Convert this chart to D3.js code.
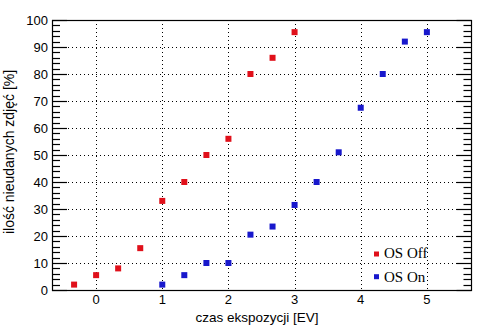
<!DOCTYPE html>
<html>
<head>
<meta charset="utf-8">
<script src="https://cdn.jsdelivr.net/npm/d3@7"></script>
<style>
html,body{margin:0;padding:0;background:#fff;}
svg{display:block;}
</style>
</head>
<body>
<svg id="chart" width="494" height="331"></svg>
<script>
// Data
const seriesNames = ["OS Off", "OS On"];
const offX = [-0.333, 0, 0.333, 0.667, 1, 1.333, 1.667, 2, 2.333, 2.667, 3];
const offY = [2, 5.5, 8, 15.5, 33, 40, 50, 56, 80, 86, 95.5];
const onX = [1, 1.333, 1.667, 2, 2.333, 2.667, 3, 3.333, 3.667, 4, 4.333, 4.667, 5];
const onY = [2, 5.5, 10, 10, 20.5, 23.5, 31.5, 40, 51, 67.5, 80, 92, 95.5];
const xTicks = [0, 1, 2, 3, 4, 5];
const yTicks = [0, 10, 20, 30, 40, 50, 60, 70, 80, 90, 100];
const yMinorTicks = d3.range(0, 101, 2);
const xTitle = "czas ekspozycji [EV]";
const yTitle = "ilość nieudanych zdjęć [%]";
const colors = ["#e0101a", "#1818cc"];

const svg = d3.select("#chart");
const L = 52, R = 471, T = 20, B = 290;
const x = d3.scaleLinear().domain([-0.667, 5.667]).range([L, R]);
const y = d3.scaleLinear().domain([0, 100]).range([B, T]);
const font = "'Liberation Sans', Arial, sans-serif";

// grid
const g = svg.append("g");
g.selectAll(".vg").data(xTicks).enter().append("line")
  .attr("x1", d => Math.round(x(d)) + 0.5).attr("x2", d => Math.round(x(d)) + 0.5)
  .attr("y1", T).attr("y2", B)
  .attr("stroke", "#000").attr("stroke-width", 1).attr("stroke-dasharray", "1,3");
g.selectAll(".hg").data(yTicks.filter(d => d > 0 && d < 100)).enter().append("line")
  .attr("x1", L).attr("x2", R)
  .attr("y1", d => Math.round(y(d)) + 0.5).attr("y2", d => Math.round(y(d)) + 0.5)
  .attr("stroke", "#000").attr("stroke-width", 1).attr("stroke-dasharray", "1,3");

// frame
svg.append("rect").attr("x", L + 0.5).attr("y", T + 0.5)
  .attr("width", R - L).attr("height", B - T)
  .attr("fill", "none").attr("stroke", "#000").attr("stroke-width", 1.2);

// minor/major ticks on left and right (inward)
const tickG = svg.append("g").attr("stroke", "#000").attr("stroke-width", 1.2);
yMinorTicks.forEach(v => {
  const major = v % 10 === 0;
  const len = major ? 15 : 8;
  const yy = Math.round(y(v)) + 0.5;
  tickG.append("line").attr("x1", L).attr("x2", L + len).attr("y1", yy).attr("y2", yy);
  tickG.append("line").attr("x1", R + 0.5).attr("x2", R + 0.5 - len).attr("y1", yy).attr("y2", yy);
});

// y tick labels
svg.append("g").selectAll("text").data(yTicks).enter().append("text")
  .attr("x", 48).attr("y", d => y(d)).attr("dy", "0.36em")
  .attr("text-anchor", "end").attr("font-family", font).attr("font-size", 13)
  .text(d => d);

// x tick labels
svg.append("g").selectAll("text").data(xTicks).enter().append("text")
  .attr("x", d => x(d)).attr("y", 304)
  .attr("text-anchor", "middle").attr("font-family", font).attr("font-size", 13)
  .text(d => d);

// axis titles
svg.append("text").attr("x", 257).attr("y", 322).attr("text-anchor", "middle")
  .attr("font-family", font).attr("font-size", 13.5).text(xTitle);
svg.append("text").attr("transform", "translate(14,152) rotate(-90)")
  .attr("text-anchor", "middle").attr("font-family", font).attr("font-size", 14).text(yTitle);

// points
const ms = 6;
const series = [
  {xs: offX, ys: offY},
  {xs: onX, ys: onY}
];
series.forEach((s, i) => {
  svg.append("g").selectAll("rect").data(s.xs.map((v, k) => [v, s.ys[k]])).enter().append("rect")
    .attr("x", d => x(d[0]) - ms / 2).attr("y", d => y(d[1]) - ms / 2)
    .attr("width", ms).attr("height", ms).attr("fill", colors[i]);
});

// legend
const lg = svg.append("g");
seriesNames.forEach((n, i) => {
  const cy = 254 + i * 22.7;
  lg.append("rect").attr("x", 374).attr("y", cy - 2.5).attr("width", 5).attr("height", 5).attr("fill", colors[i]);
  lg.append("text").attr("x", 384).attr("y", 257.5 + i * 24)
    .attr("font-family", "'Liberation Serif', 'Times New Roman', serif").attr("font-size", 15).text(n);
});
</script>
</body>
</html>
